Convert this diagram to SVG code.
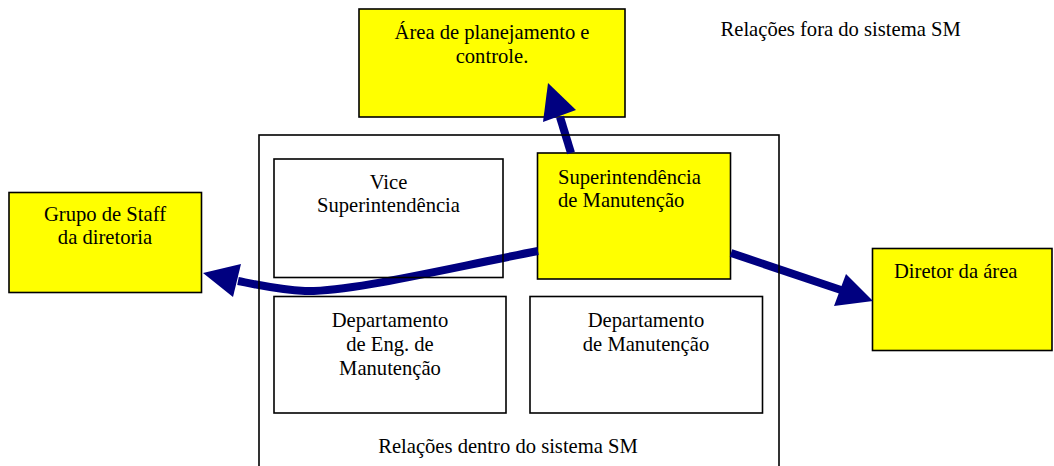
<svg xmlns="http://www.w3.org/2000/svg" width="1054" height="466" viewBox="0 0 1054 466">
<style>
  .box { stroke: #000; stroke-width: 1.6; }
  .yellow { fill: #FFFF00; }
  .white { fill: none; }
  .lbl { font-family: "Liberation Serif", "Times New Roman", serif; font-size: 20.6px; fill: #000; }
  .mid { text-anchor: middle; }
  .conn { fill: none; stroke: #000080; stroke-width: 8; }
  .head { fill: #000080; stroke: none; }
</style>
<rect width="1054" height="466" fill="#fff"/>
<g id="fora-label">
  <text class="lbl" x="720.5" y="36">Relações fora do sistema SM</text>
</g>
<g id="area-planejamento">
  <rect class="box yellow" x="359" y="9" width="266" height="108"/>
  <text class="lbl mid" x="492" y="39">Área de planejamento e</text>
  <text class="lbl mid" x="492" y="63">controle.</text>
</g>
<g id="grupo-staff">
  <rect class="box yellow" x="9" y="192.5" width="192.5" height="100"/>
  <text class="lbl mid" x="105" y="221">Grupo de Staff</text>
  <text class="lbl mid" x="105" y="244">da diretoria</text>
</g>
<g id="diretor-area">
  <rect class="box yellow" x="872.5" y="248.5" width="179.5" height="102"/>
  <text class="lbl" x="894" y="278">Diretor da área</text>
</g>
<g id="superintendencia-manutencao">
  <rect class="box yellow" x="537.5" y="153" width="193" height="126"/>
  <text class="lbl" x="558" y="184">Superintendência</text>
  <text class="lbl" x="558" y="207">de Manutenção</text>
</g>
<g id="connectors">
  <line class="conn" x1="571" y1="153" x2="560" y2="117"/>
  <polygon class="head" points="548,83 543,122 576,110"/>
  <path class="conn" d="M538,251 C440,270 350,292 305,291 C280,290 258,285 238,281"/>
  <polygon class="head" points="203,273 241,264 233,297"/>
  <line class="conn" x1="731" y1="253" x2="841" y2="290"/>
  <polygon class="head" points="873,301 846,274 834,306"/>
</g>
<g id="sistema-sm">
  <rect class="box white" x="259" y="135" width="520" height="345"/>
  <text class="lbl mid" x="508" y="453">Relações dentro do sistema SM</text>
</g>
<g id="vice-superintendencia">
  <rect class="box white" x="274" y="159" width="229" height="118.5"/>
  <text class="lbl mid" x="388.5" y="189">Vice</text>
  <text class="lbl mid" x="388.5" y="212">Superintendência</text>
</g>
<g id="dept-eng-manutencao">
  <rect class="box white" x="274" y="296.5" width="232" height="116.5"/>
  <text class="lbl mid" x="390" y="327">Departamento</text>
  <text class="lbl mid" x="390" y="351">de Eng. de</text>
  <text class="lbl mid" x="390" y="375">Manutenção</text>
</g>
<g id="dept-manutencao">
  <rect class="box white" x="530" y="296.5" width="232.5" height="116.5"/>
  <text class="lbl mid" x="646" y="327">Departamento</text>
  <text class="lbl mid" x="646" y="351">de Manutenção</text>
</g>
</svg>
